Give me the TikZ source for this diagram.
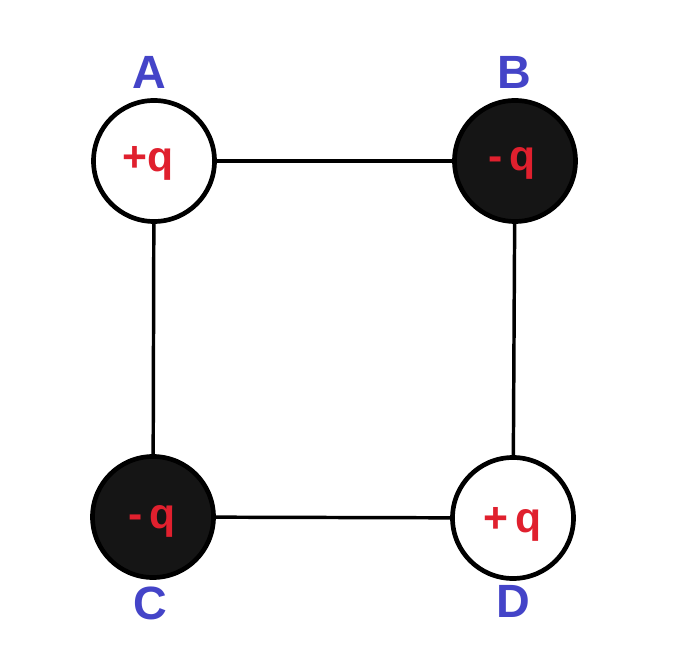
\documentclass[tikz,border=0pt]{standalone}
\usepackage{fontspec}
\setmainfont{Liberation Sans}
\definecolor{lblblue}{HTML}{4444C8}
\definecolor{chred}{HTML}{E0202E}
\definecolor{darkfill}{HTML}{151515}
\begin{document}
\begin{tikzpicture}[x=0.75pt,y=-0.75pt,
  charge/.style={circle,draw=black,line width=3.5pt,minimum size=121*0.75pt,inner sep=0pt},
  poscharge/.style={charge,fill=white},
  negcharge/.style={charge,fill=darkfill},
  chtext/.style={text=chred,font=\bfseries\fontsize{32}{32}\selectfont},
  lbl/.style={text=lblblue,font=\bfseries\fontsize{35}{35}\selectfont},
  wire/.style={line width=2.6pt}]
\useasboundingbox (0,0) rectangle (674,655);
\fill[white] (0,0) rectangle (674,655);
\node[poscharge] (A) at (154,161) {};
\node[negcharge] (B) at (515,161) {};
\node[negcharge] (C) at (153,517) {};
\node[poscharge] (D) at (513,518) {};
\draw[wire] (A) -- (B);
\draw[wire] (A) -- (C);
\draw[wire] (C) -- (D);
\draw[wire] (B) -- (D);
\node[chtext] (tA) at (148,163) {+q};
\node[chtext] (tB) at (512,163) {-\,q};
\node[chtext] (tC) at (152,521) {-\,q};
\node[chtext] (tD) at (513,524) {+\,q};
\node[lbl] (lA) at (149,72) {A};
\node[lbl] (lB) at (514,72) {B};
\node[lbl] (lC) at (150,603) {C};
\node[lbl] (lD) at (513,601) {D};
\end{tikzpicture}
\end{document}
